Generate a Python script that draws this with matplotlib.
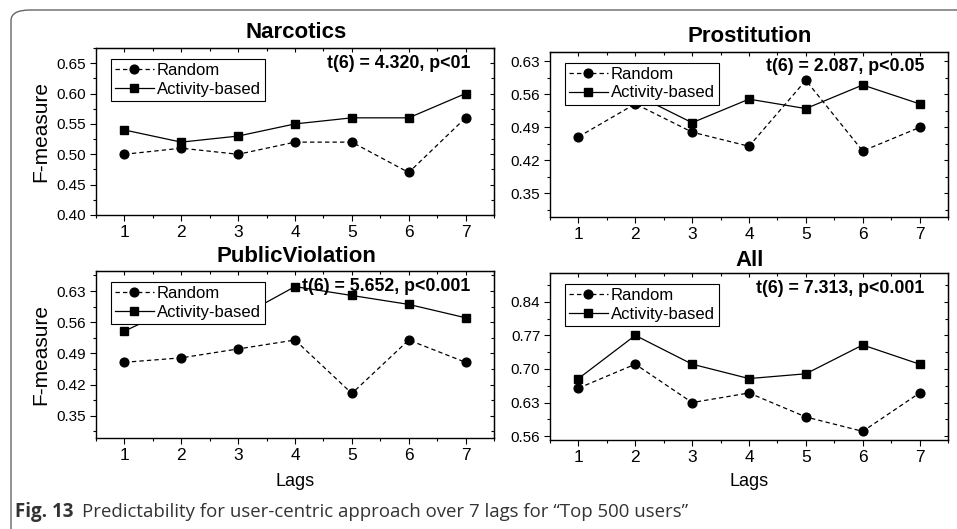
import matplotlib
matplotlib.use("Agg")
import matplotlib.pyplot as plt
from matplotlib.patches import FancyBboxPatch
from matplotlib.ticker import MultipleLocator, FormatStrFormatter

lags = [1, 2, 3, 4, 5, 6, 7]
titles = ["Narcotics", "Prostitution", "PublicViolation", "All"]
random_vals = [
    [0.50, 0.51, 0.50, 0.52, 0.52, 0.47, 0.56],
    [0.47, 0.54, 0.48, 0.45, 0.59, 0.44, 0.49],
    [0.47, 0.48, 0.50, 0.52, 0.40, 0.52, 0.47],
    [0.66, 0.71, 0.63, 0.65, 0.60, 0.57, 0.65],
]
activity_vals = [
    [0.54, 0.52, 0.53, 0.55, 0.56, 0.56, 0.60],
    [0.56, 0.56, 0.50, 0.55, 0.53, 0.58, 0.54],
    [0.54, 0.60, 0.57, 0.64, 0.62, 0.60, 0.57],
    [0.68, 0.77, 0.71, 0.68, 0.69, 0.75, 0.71],
]
stats = [
    "t(6) = 4.320, p<01",
    "t(6) = 2.087, p<0.05",
    "t(6) = 5.652, p<0.001",
    "t(6) = 7.313, p<0.001",
]
yticks = [
    [0.40, 0.45, 0.50, 0.55, 0.60, 0.65],
    [0.35, 0.42, 0.49, 0.56, 0.63],
    [0.35, 0.42, 0.49, 0.56, 0.63],
    [0.56, 0.63, 0.70, 0.77, 0.84],
]
ylims = [(0.40, 0.675), (0.30, 0.65), (0.30, 0.675), (0.552, 0.90)]
minor_step = [0.025, 0.035, 0.035, 0.035]

W, H = 957, 529
fig = plt.figure(figsize=(W / 100, H / 100), dpi=100)
plt.rcParams['font.family'] = ['Liberation Sans', 'DejaVu Sans']

# axes boxes in pixels: left, right, top, bottom
boxes = [(96, 494, 48, 215), (550, 948, 52, 217), (96, 494, 271, 438), (550, 948, 273, 440)]
title_y = [33, 37, 257, 261]

for i in range(4):
    l, r, t, b = boxes[i]
    ax = fig.add_axes([l / W, 1 - b / H, (r - l) / W, (b - t) / H])
    ax.plot(lags, random_vals[i], linestyle=(0, (3.5, 2.5)), color='black', lw=0.9,
            marker='o', markersize=6.3, label='Random')
    ax.plot(lags, activity_vals[i], linestyle='-', color='black', lw=0.9,
            marker='s', markersize=6.0, label='Activity-based')
    ax.set_xlim(0.5, 7.5)
    ax.set_ylim(*ylims[i])
    ax.set_xticks(lags)
    ax.xaxis.set_minor_locator(MultipleLocator(0.5))
    ax.set_yticks(yticks[i])
    ax.yaxis.set_minor_locator(MultipleLocator(minor_step[i]))
    ax.yaxis.set_major_formatter(FormatStrFormatter('%.2f'))
    ax.tick_params(axis='both', which='major', direction='out', length=4, width=0.8, pad=3)
    ax.tick_params(axis='x', which='major', labelsize=12.5)
    ax.tick_params(axis='y', which='major', labelsize=11)
    ax.tick_params(axis='both', which='minor', direction='out', length=2.5, width=0.8)
    for sp in ax.spines.values():
        sp.set_linewidth(1.0)
    # inward ticks on top/right
    secx = ax.secondary_xaxis('top')
    secx.set_xticks(lags)
    secx.xaxis.set_minor_locator(MultipleLocator(0.5))
    secx.tick_params(axis='x', which='major', direction='in', length=3, width=0.8, labeltop=False)
    secx.tick_params(axis='x', which='minor', direction='in', length=2, width=0.8)
    secy = ax.secondary_yaxis('right')
    secy.set_yticks(yticks[i])
    secy.yaxis.set_minor_locator(MultipleLocator(minor_step[i]))
    secy.tick_params(axis='y', which='major', direction='in', length=3, width=0.8, labelright=False)
    secy.tick_params(axis='y', which='minor', direction='in', length=2, width=0.8)

    leg = ax.legend(loc='upper left', bbox_to_anchor=(0.038, 0.934), fontsize=12,
                    frameon=True, fancybox=False, edgecolor='black', framealpha=1,
                    borderpad=0.25, labelspacing=0.2, handlelength=2.3,
                    handletextpad=0.2, borderaxespad=0)
    leg.get_frame().set_linewidth(0.8)
    leg.set_zorder(5)
    ax.text(0.94, 0.91, stats[i], transform=ax.transAxes, ha='right', va='center',
            fontsize=12.8, fontweight='bold', zorder=6)
    fig.text(((l + r) / 2 + 1) / W, 1 - title_y[i] / H, titles[i], ha='center',
             va='center', fontsize=16, fontweight='bold')
    if i in (0, 2):
        fig.text(41 / W, 1 - ((t + b) / 2) / H, 'F-measure', rotation=90,
                 ha='center', va='center', fontsize=15)
    if i in (2, 3):
        fig.text(((l + r) / 2) / W, 1 - 482 / H, 'Lags', ha='center', va='center',
                 fontsize=13)

# rounded border
border = FancyBboxPatch((11 / W, -0.1), 1.2, 1 - 10 / H + 0.1,
                        boxstyle="round,pad=0,rounding_size=0.02",
                        transform=fig.transFigure, fill=False,
                        edgecolor='#666666', linewidth=1.0, clip_on=False)
fig.add_artist(border)

# caption
cap1 = fig.text(15 / W, 1 - 512 / H, 'Fig. 13', ha='left', va='center', fontsize=13.5,
                fontweight='bold', family=['Open Sans', 'DejaVu Sans'], color='#333333')
fig.canvas.draw()
bb = cap1.get_window_extent(renderer=fig.canvas.get_renderer())
fig.text((bb.x1 + 8) / W, 1 - 512 / H,
         'Predictability for user-centric approach over 7 lags for \u201cTop 500 users\u201d',
         ha='left', va='center', fontsize=13.4, family=['Open Sans', 'DejaVu Sans'],
         color='#333333')

fig.savefig('out.png', dpi=100)
